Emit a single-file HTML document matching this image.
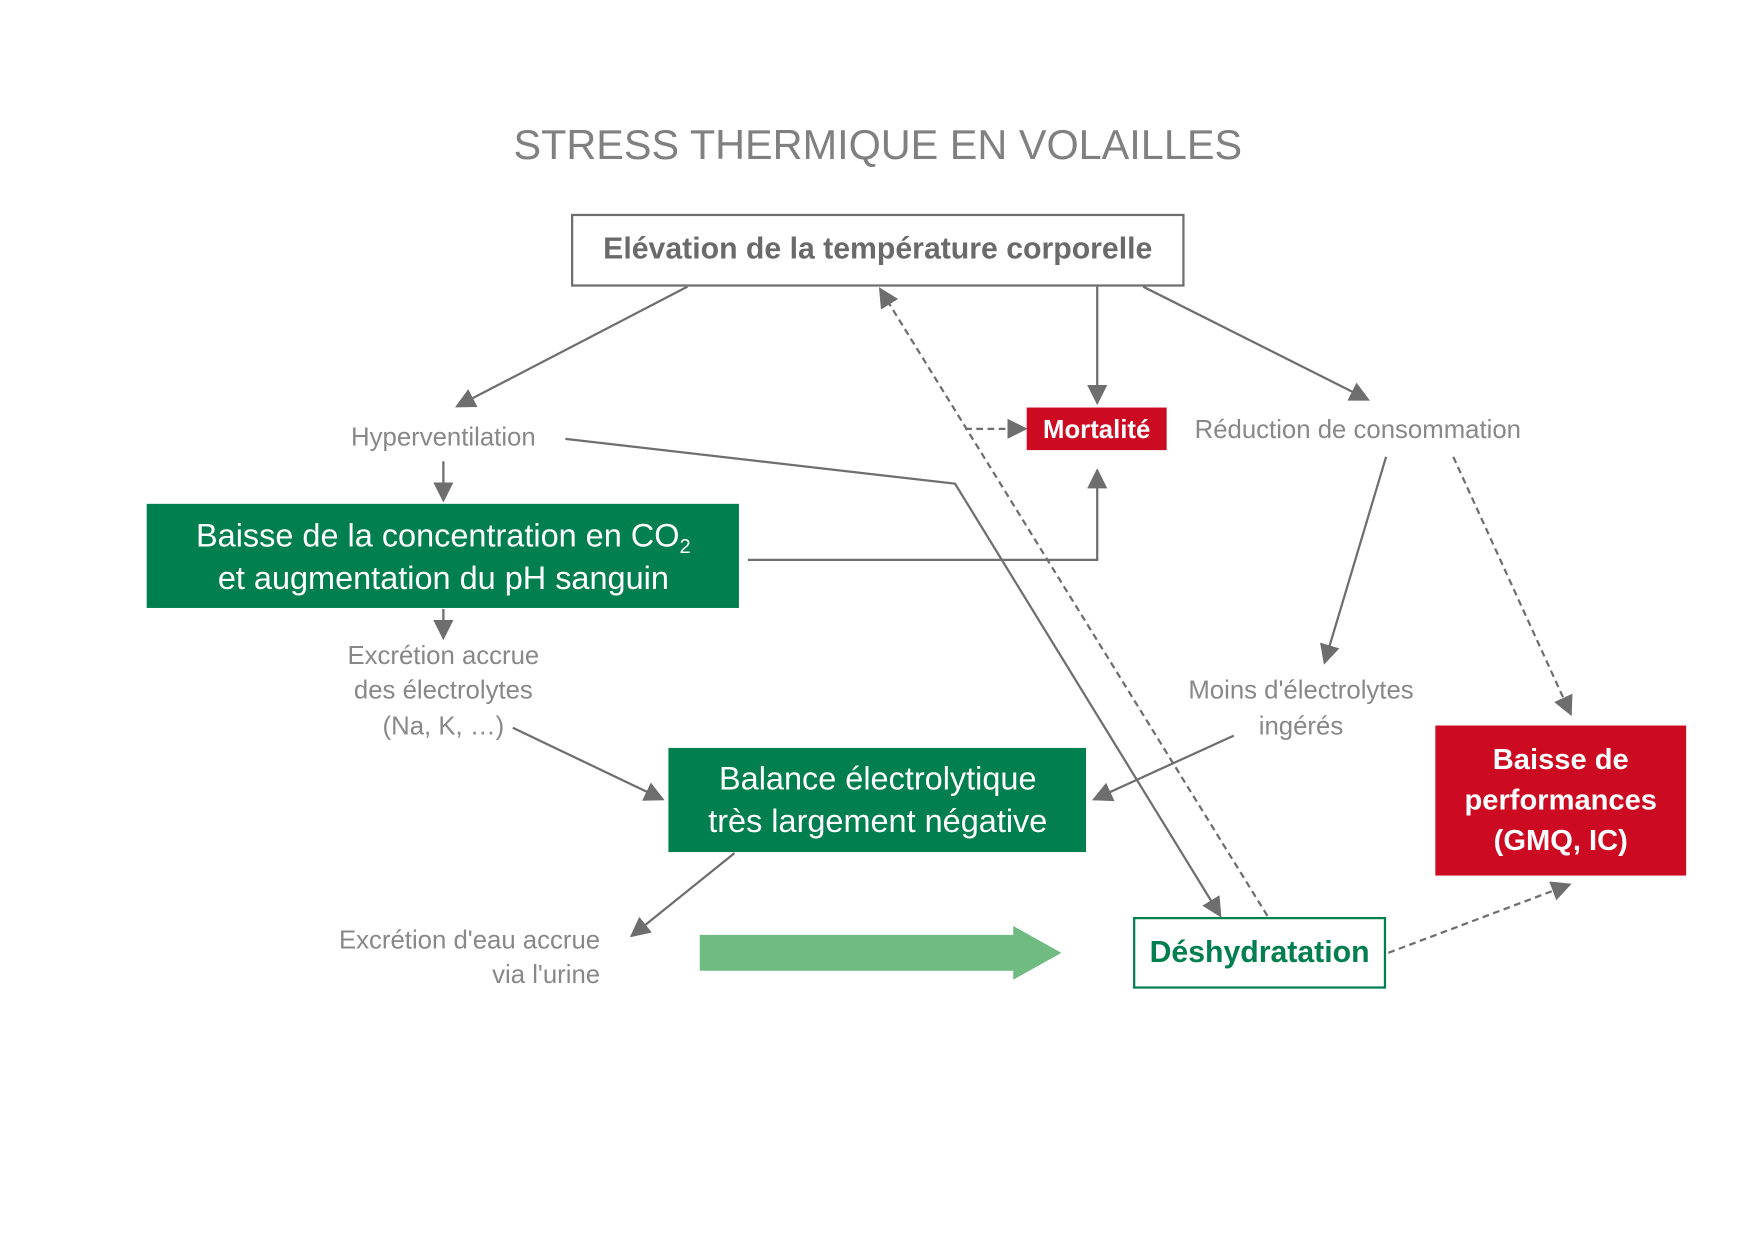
<!DOCTYPE html>
<html><head><meta charset="utf-8"><style>html,body{margin:0;padding:0;background:#fff}svg{display:block}text{font-family:"Liberation Sans",sans-serif}</style></head>
<body>
<svg width="1755" height="1240" viewBox="0 0 1567.5 1107.5" preserveAspectRatio="none" xmlns="http://www.w3.org/2000/svg">
<defs>
<marker id="b" viewBox="0 0 10 10" refX="9" refY="5" markerWidth="18" markerHeight="18" markerUnits="userSpaceOnUse" orient="auto"><path d="M0,0L10,5L0,10z" fill="#6e6e6e"/></marker>
</defs>
<rect width="1567.5" height="1107.5" fill="#fff"/>
<text x="784" y="142" text-anchor="middle" font-size="37" fill="#808080">STRESS THERMIQUE EN VOLAILLES</text>
<rect x="511" y="192" width="546" height="63" fill="#fff" stroke="#6e6e6e" stroke-width="2"/>
<text x="784" y="231" text-anchor="middle" font-size="27" font-weight="bold" fill="#6a6a6a">Elévation de la température corporelle</text>
<g stroke="#6e6e6e" stroke-width="2" fill="none">
<line x1="614" y1="256" x2="408" y2="363" marker-end="url(#b)"/>
<line x1="980" y1="256" x2="980" y2="360" marker-end="url(#b)"/>
<line x1="1021" y1="256" x2="1222" y2="357" marker-end="url(#b)"/>
<line x1="1132" y1="818" x2="786" y2="258" stroke-dasharray="6,4" marker-end="url(#b)"/>
<line x1="862" y1="383" x2="916" y2="383" stroke-dasharray="6,4" marker-end="url(#b)"/>
<polyline points="505,392 853,432 1090,818" marker-end="url(#b)"/>
<line x1="396" y1="412" x2="396" y2="447" marker-end="url(#b)"/>
<polyline points="668,500 980,500 980,420" marker-end="url(#b)"/>
<line x1="396" y1="544" x2="396" y2="570" marker-end="url(#b)"/>
<line x1="458" y1="650" x2="592" y2="714" marker-end="url(#b)"/>
<line x1="1238" y1="408" x2="1183" y2="592" marker-end="url(#b)"/>
<line x1="1298" y1="408" x2="1403" y2="638" stroke-dasharray="6,4" marker-end="url(#b)"/>
<line x1="1102" y1="657" x2="977" y2="714" marker-end="url(#b)"/>
<line x1="656" y1="762" x2="564" y2="836" marker-end="url(#b)"/>
<line x1="1240" y1="851" x2="1402" y2="790" stroke-dasharray="6,4" marker-end="url(#b)"/>
</g>
<text x="396" y="398" text-anchor="middle" font-size="23" fill="#888">Hyperventilation</text>
<rect x="917" y="364" width="125" height="38" fill="#cc0a21"/>
<text x="979.5" y="391" text-anchor="middle" font-size="23" font-weight="bold" fill="#fff">Mortalité</text>
<text x="1067" y="391" font-size="23" fill="#888">Réduction de consommation</text>
<rect x="131" y="450" width="529" height="93" fill="#027f4e"/>
<text x="396" y="488" text-anchor="middle" font-size="29" fill="#fff">Baisse de la concentration en CO<tspan font-size="18" dy="6">2</tspan></text>
<text x="396" y="526" text-anchor="middle" font-size="29" fill="#fff">et augmentation du pH sanguin</text>
<g font-size="23" fill="#888" text-anchor="middle">
<text x="396" y="593">Excrétion accrue</text>
<text x="396" y="624">des électrolytes</text>
<text x="396" y="656">(Na, K, …)</text>
<text x="1162" y="624">Moins d'électrolytes</text>
<text x="1162" y="656">ingérés</text>
</g>
<rect x="597" y="668" width="373" height="93" fill="#027f4e"/>
<text x="784" y="705" text-anchor="middle" font-size="29" fill="#fff">Balance électrolytique</text>
<text x="784" y="743" text-anchor="middle" font-size="29" fill="#fff">très largement négative</text>
<rect x="1282" y="648" width="224" height="134" fill="#cc0a21"/>
<g font-size="26" font-weight="bold" fill="#fff" text-anchor="middle">
<text x="1394" y="687">Baisse de</text>
<text x="1394" y="723">performances</text>
<text x="1394" y="759">(GMQ, IC)</text>
</g>
<g font-size="23" fill="#888" text-anchor="end">
<text x="536" y="847">Excrétion d'eau accrue</text>
<text x="536" y="878">via l'urine</text>
</g>
<polygon points="625,835 905,835 905,827 948,851 905,875 905,867 625,867" fill="#6fbb82"/>
<rect x="1013" y="820" width="224" height="62" fill="#fff" stroke="#027f4e" stroke-width="2"/>
<text x="1125" y="859" text-anchor="middle" font-size="27" font-weight="bold" fill="#027f4e">Déshydratation</text>
</svg>
</body></html>
